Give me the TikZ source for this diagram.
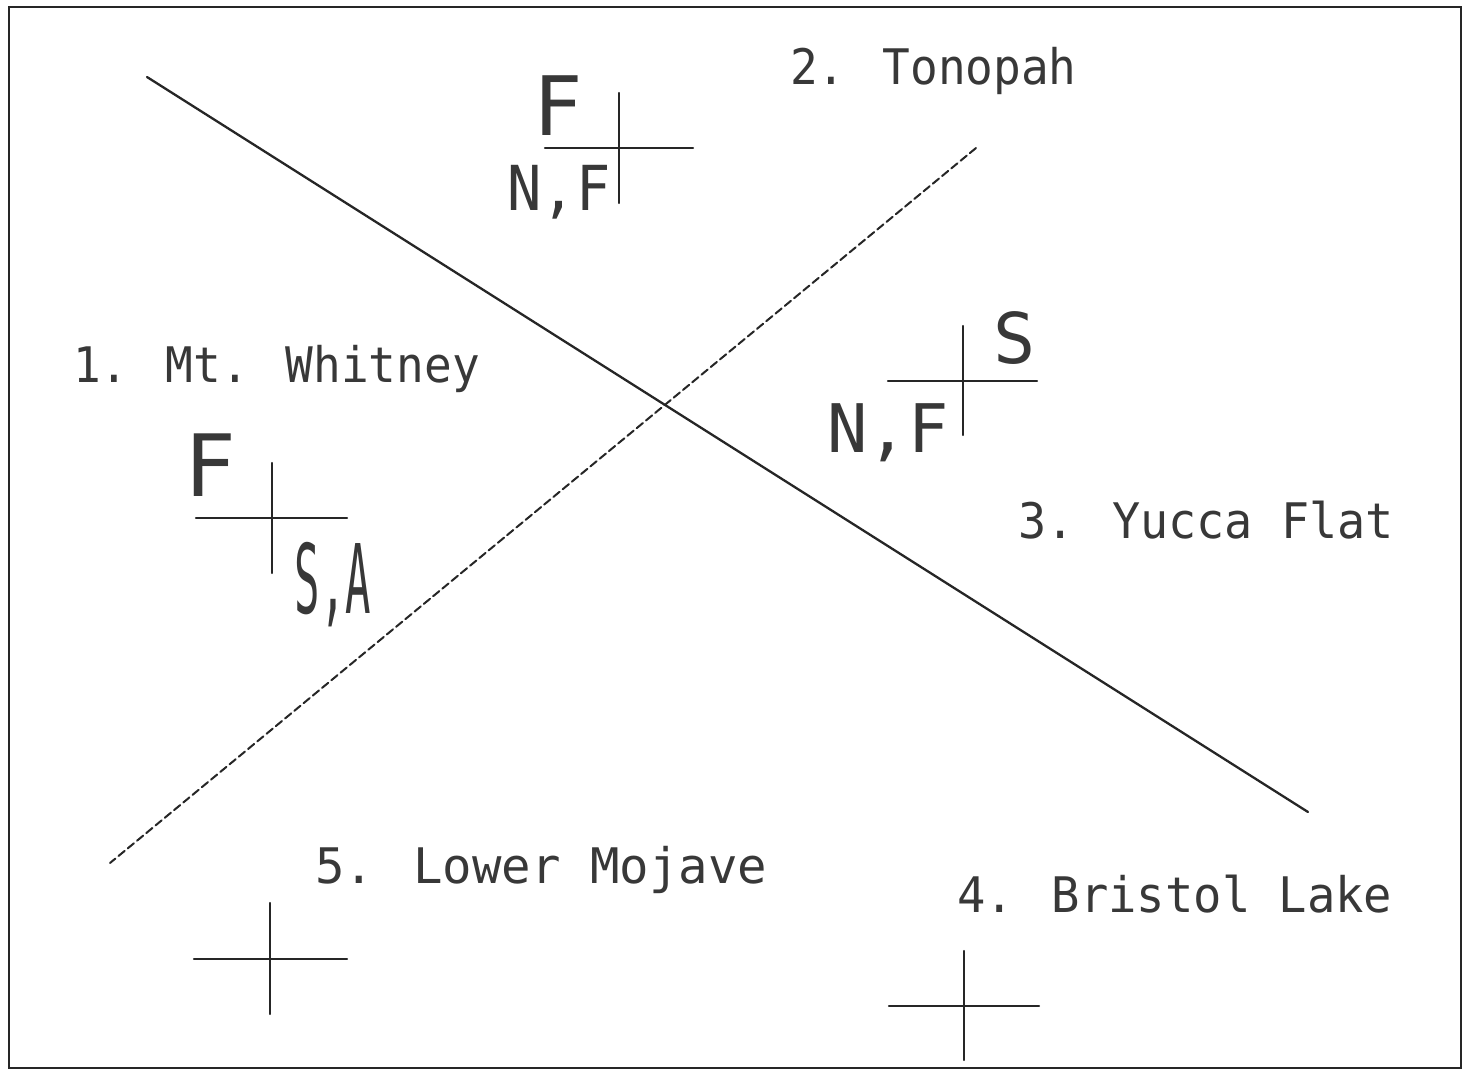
\documentclass[tikz,border=0pt]{standalone}
\usepackage{fontspec}
\newfontfamily\plotfont{DejaVu Sans Mono}
\newcommand{\narrow}[2]{\scalebox{#1}[1]{#2}}
\begin{document}
\begin{tikzpicture}[x=1pt,y=-1pt,
  ink/.style={line width=2.3pt, black!85, line cap=round},
  dashedink/.style={ink, line width=2pt, dash pattern=on 8pt off 4pt},
  sitelabel/.style={inner sep=0pt, anchor=base west, text=black!78,
    font=\plotfont\fontsize{49}{49}\selectfont},
  quadtext/.style={inner sep=0pt, anchor=base, text=black!78,
    font=\plotfont\fontsize{#1}{#1}\selectfont}]
\useasboundingbox (0,0) rectangle (1470,1072);

% outer frame
\draw[ink, line width=2.4pt] (9,7) rectangle (1461,1068);

% the two crossing lines
\coordinate (solidA) at (147,77);
\coordinate (solidB) at (1308,812);
\coordinate (dashA) at (976,148);
\coordinate (dashB) at (110,863);
\draw[ink] (solidA) -- (solidB);
\draw[dashedink] (dashA) -- (dashB);

% site names
\node[sitelabel] (whitney) at (73,382) {\narrow{0.94}{1. Mt. Whitney}};
\node[sitelabel] (tonopah) at (790,84) {\narrow{0.94}{2. Tonopah}};
\node[sitelabel] (yucca) at (1018,538) {\narrow{0.955}{3. Yucca Flat}};
\node[sitelabel] (bristol) at (957,912) {\narrow{0.962}{4. Bristol Lake}};
\node[sitelabel] (mojave) at (315,883) {\narrow{1.0}{5. Lower Mojave}};

% Tonopah cross
\coordinate (tonL) at (545,148); \coordinate (tonR) at (693,148);
\coordinate (tonT) at (619,93);  \coordinate (tonB) at (619,203);
\draw[ink] (tonL) -- (tonR); \draw[ink] (tonT) -- (tonB);
\node[quadtext=82] (tonF) at (558,135) {F};
\node[quadtext=62] (tonNF) at (559,210) {\narrow{0.92}{N,F}};

% Mt. Whitney cross
\coordinate (whiL) at (196,518); \coordinate (whiR) at (347,518);
\coordinate (whiT) at (272,463); \coordinate (whiB) at (272,573);
\draw[ink] (whiL) -- (whiR); \draw[ink] (whiT) -- (whiB);
\node[quadtext=86] (whiF) at (210,496) {F};
\node[quadtext=96] (whiSA) at (333,613) {\narrow{0.44}{S,A}};

% Yucca Flat cross
\coordinate (yucL) at (888,381); \coordinate (yucR) at (1037,381);
\coordinate (yucT) at (963,326); \coordinate (yucB) at (963,435);
\draw[ink] (yucL) -- (yucR); \draw[ink] (yucT) -- (yucB);
\node[quadtext=70] (yucS) at (1015,363) {S};
\node[quadtext=67] (yucNF) at (888,452) {N,F};

% Lower Mojave cross
\coordinate (mojL) at (194,959); \coordinate (mojR) at (347,959);
\coordinate (mojT) at (270,903); \coordinate (mojB) at (270,1014);
\draw[ink] (mojL) -- (mojR); \draw[ink] (mojT) -- (mojB);

% Bristol Lake cross
\coordinate (briL) at (889,1006); \coordinate (briR) at (1039,1006);
\coordinate (briT) at (964,951);  \coordinate (briB) at (964,1060);
\draw[ink] (briL) -- (briR); \draw[ink] (briT) -- (briB);
\end{tikzpicture}
\end{document}
